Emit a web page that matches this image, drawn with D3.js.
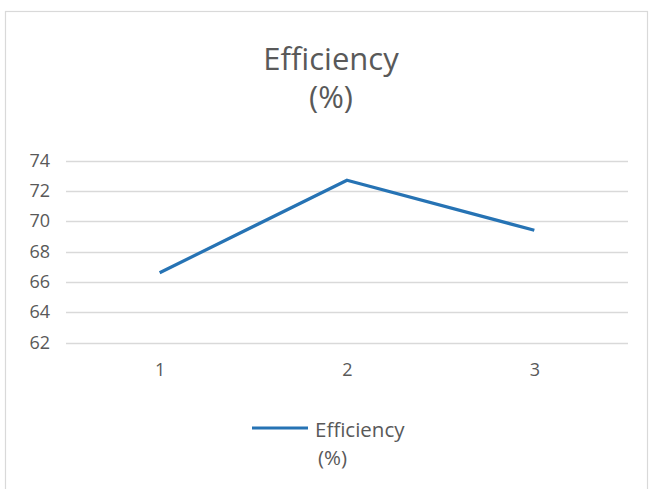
<!DOCTYPE html>
<html>
<head>
<meta charset="utf-8">
<script src="https://cdn.jsdelivr.net/npm/d3@7"></script>
<style>
  html, body { margin: 0; padding: 0; background: #fff; }
  svg { display: block; }
  text { font-family: "Open Sans", "Noto Sans", sans-serif; fill: #595959; }
</style>
</head>
<body>
<svg id="chart" width="649" height="489"></svg>
<script>
// data
const categories = ["1", "2", "3"];
const efficiency = [66.6, 72.7, 69.4];
const yTicks = [62, 64, 66, 68, 70, 72, 74];
const titleLines = ["Efficiency", "(%)"];
const legendLines = ["Efficiency", "(%)"];

const svg = d3.select("#chart");

// chart area border
svg.append("rect")
    .attr("x", 5.5).attr("y", 11.5)
    .attr("width", 642).attr("height", 500)
    .attr("fill", "none")
    .attr("stroke", "#d9d9d9")
    .attr("stroke-width", 1.2);

const plot = { left: 66, right: 628, top: 160.5, bottom: 342.5 };

const x = d3.scalePoint()
    .domain(categories)
    .range([plot.left, plot.right])
    .padding(0.5);

const y = d3.scaleLinear()
    .domain([d3.min(yTicks), d3.max(yTicks)])
    .range([plot.bottom, plot.top]);

// title
svg.append("text")
    .attr("x", 331)
    .attr("y", 70)
    .attr("text-anchor", "middle")
    .style("font-size", "31px")
    .selectAll("tspan")
    .data(titleLines)
    .enter().append("tspan")
    .attr("x", 331)
    .attr("dy", (d, i) => i === 0 ? 0 : 38)
    .text(d => d);

// gridlines
svg.append("g")
    .selectAll("line")
    .data(yTicks)
    .enter().append("line")
    .attr("x1", plot.left)
    .attr("x2", plot.right)
    .attr("y1", d => Math.round(y(d)) + 0.5)
    .attr("y2", d => Math.round(y(d)) + 0.5)
    .attr("stroke", "#d9d9d9")
    .attr("stroke-width", 1.3);

// y axis labels
const yAxis = d3.axisLeft(y).tickValues(yTicks).tickSize(0).tickPadding(0);
const gy = svg.append("g")
    .attr("transform", "translate(50,0)")
    .call(yAxis);
gy.select(".domain").remove();
gy.selectAll("text")
    .style("font-size", "18px")
    .style("font-family", "\"Open Sans\", sans-serif")
    .attr("fill", "#595959");

// x axis labels
const xAxis = d3.axisBottom(x).tickSize(0).tickPadding(0);
const gx = svg.append("g")
    .attr("transform", "translate(0,363)")
    .call(xAxis);
gx.select(".domain").remove();
gx.selectAll("text")
    .style("font-size", "18px")
    .style("font-family", "\"Open Sans\", sans-serif")
    .attr("fill", "#595959");

// series line
const line = d3.line()
    .x((d, i) => x(categories[i]))
    .y(d => y(d));

svg.append("path")
    .datum(efficiency)
    .attr("d", line)
    .attr("fill", "none")
    .attr("stroke", "#2673b4")
    .attr("stroke-width", 3.2)
    .attr("stroke-linejoin", "round");

// legend
svg.append("line")
    .attr("x1", 252).attr("x2", 308)
    .attr("y1", 428).attr("y2", 428)
    .attr("stroke", "#2673b4")
    .attr("stroke-width", 3.2);

svg.append("text")
    .attr("x", 315)
    .attr("y", 437)
    .style("font-size", "20.5px")
    .selectAll("tspan")
    .data(legendLines)
    .enter().append("tspan")
    .attr("x", (d, i) => i === 0 ? 315 : 318)
    .attr("dy", (d, i) => i === 0 ? 0 : 28)
    .text(d => d);
</script>
</body>
</html>
